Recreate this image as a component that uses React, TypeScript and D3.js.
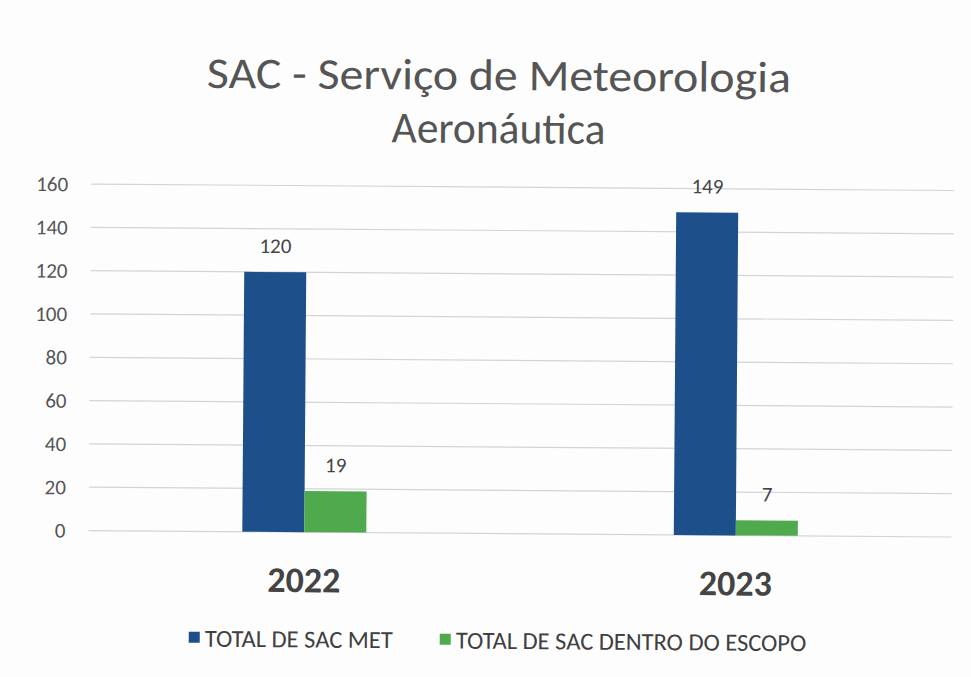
import React from "react";
import * as d3 from "d3";

const categories = ["2022", "2023"];
const seriesNames = ["TOTAL DE SAC MET", "TOTAL DE SAC DENTRO DO ESCOPO"];
const totalSacMet = [120, 149];
const totalDentroEscopo = [19, 7];
const yTicks = [0, 20, 40, 60, 80, 100, 120, 140, 160];
const titleLines = ["SAC - Serviço de Meteorologia", "Aeronáutica"];

const colors = ["#1d4f8b", "#4eaa4c"];
const W = 971;
const H = 677;
const FONT = "Carlito, Lato, 'Open Sans', sans-serif";

export default function App() {
  const left = 90;
  const right = 953;
  const top = 187;
  const bottom = 533.5;

  const x0 = d3.scaleBand<string>().domain(categories).range([left, right]).paddingInner(0).paddingOuter(0);
  const y = d3.scaleLinear().domain([0, 160]).range([bottom, top]);
  const barW = 62;
  const x1 = d3.scaleBand<number>().domain([0, 1]).range([-barW, barW]);

  const series = [totalSacMet, totalDentroEscopo];
  const titleWidths = [584, 214];

  return (
    <svg
      width={W}
      height={H}
      style={{ position: "absolute", left: 0, top: 0, display: "block", background: "#fff" }}
    >
      <rect x={0} y={0} width={W} height={H} fill="#fdfdfd" />
      <g transform={`rotate(0.43, ${W / 2}, ${H / 2})`}>
        {/* title */}
        {titleLines.map((t, i) => (
          <text
            key={t}
            x={497}
            y={i === 0 ? 90 : 143}
            textAnchor="middle"
            fontFamily={FONT}
            fontSize={44}
            fill="#555"
            textLength={titleWidths[i]}
            lengthAdjust="spacingAndGlyphs"
          >
            {t}
          </text>
        ))}

        {/* gridlines */}
        {yTicks.map((t) => (
          <g key={t}>
            <line x1={left} x2={right} y1={y(t)} y2={y(t)} stroke="#d4d4d4" strokeWidth={1.2} />
            <text
              x={67}
              y={y(t)}
              dy="0.35em"
              textAnchor="end"
              fontFamily={FONT}
              fontSize={21}
              fill="#555"
            >
              {t}
            </text>
          </g>
        ))}

        {/* bars */}
        {categories.map((c, ci) => {
          const cx = (x0(c) as number) + x0.bandwidth() / 2;
          return (
            <g key={c}>
              {series.map((s, si) => {
                const bx = cx + (x1(si) as number);
                const v = s[ci];
                return (
                  <g key={si}>
                    <rect
                      x={bx}
                      y={y(v)}
                      width={x1.bandwidth()}
                      height={y(0) - y(v)}
                      fill={colors[si]}
                    />
                    <text
                      x={bx + x1.bandwidth() / 2}
                      y={y(v) - 19}
                      textAnchor="middle"
                      fontFamily={FONT}
                      fontSize={21}
                      fill="#444"
                    >
                      {v}
                    </text>
                  </g>
                );
              })}
              <text
                x={cx}
                y={bottom + 60}
                textAnchor="middle"
                fontFamily={FONT}
                fontSize={36}
                fontWeight="bold"
                fill="#444"
              >
                {c}
              </text>
            </g>
          );
        })}

        {/* legend */}
        {seriesNames.map((n, i) => {
          const lx = i === 0 ? 191 : 442;
          return (
            <g key={n}>
              <rect x={lx} y={634} width={11} height={11} fill={colors[i]} />
              <text x={lx + 16} y={640} dy="0.36em" fontFamily={FONT} fontSize={24.5} fill="#404040">
                {n}
              </text>
            </g>
          );
        })}
      </g>
    </svg>
  );
}
